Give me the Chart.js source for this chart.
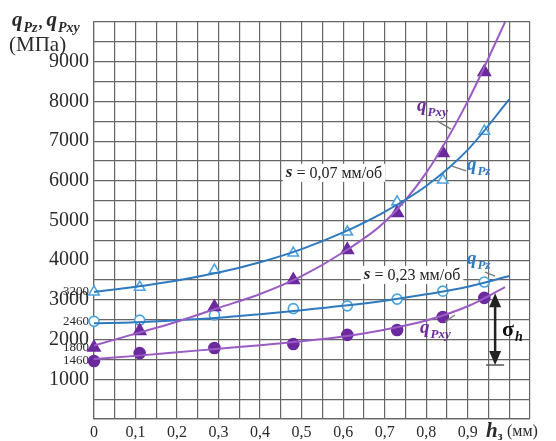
<!DOCTYPE html>
<html>
<head>
<meta charset="utf-8">
<script src="https://cdn.jsdelivr.net/npm/chart.js@4/dist/chart.umd.min.js"></script>
<style>
    html, body { margin: 0; padding: 0; background: #fff; }
    #contenedor { width: 556px; height: 441px; position: relative; }
</style>
</head>
<body>
<div id="contenedor"><canvas id="grafica"></canvas></div>
<script>
// h3 (мм) at which the measurements were taken
const puntosH = [0, 0.11, 0.29, 0.48, 0.61, 0.73, 0.84, 0.94];
// s = 0,07 мм/об
const qPz007 = [3200, 3320, 3750, 4180, 4710, 5470, 6020, 7250];
const qPxy007 = [1800, 2220, 2820, 3500, 4260, 5190, 6700, 8740];
// s = 0,23 мм/об
const qPz023 = [2460, 2490, 2620, 2780, 2850, 3020, 3220, 3450];
const qPxy023 = [1460, 1660, 1790, 1890, 2120, 2240, 2570, 3050];

// trend curves
const curvaH = [0, 0.1, 0.2, 0.3, 0.4, 0.5, 0.6, 0.7, 0.8, 0.9, 1.0];
const curvaHxy = [0, 0.1, 0.2, 0.3, 0.4, 0.5, 0.6, 0.7, 0.8, 0.9, 0.99];
const curvaPz007 = [3200, 3330, 3490, 3690, 3950, 4280, 4700, 5220, 5870, 6780, 8050];
const curvaPxy007 = [1850, 2150, 2450, 2800, 3150, 3600, 4200, 4960, 6200, 8000, 10000];
const curvaPz023 = [2410, 2440, 2490, 2550, 2640, 2740, 2850, 2980, 3140, 3330, 3600];
const curvaPxy023 = [1510, 1590, 1680, 1770, 1860, 1960, 2080, 2250, 2480, 2840, 3320];

// axis ticks
const ticksY = [0, 500, 1000, 1500, 2000, 2500, 3000, 3500, 4000, 4500, 5000, 5500, 6000, 6500, 7000, 7500, 8000, 8500, 9000, 9500, 10000];
const etiquetasY = [1000, 2000, 3000, 4000, 5000, 6000, 7000, 8000, 9000];
const extrasY = [1460, 1800, 2460, 3200];
const ticksX = [0, 0.05, 0.1, 0.15, 0.2, 0.25, 0.3, 0.35, 0.4, 0.45, 0.5, 0.55, 0.6, 0.65, 0.7, 0.75, 0.8, 0.85, 0.9, 0.95, 1.0, 1.05];
const etiquetasX = [0, 0.1, 0.2, 0.3, 0.4, 0.5, 0.6, 0.7, 0.8, 0.9];

const AZUL = "#2f79be";
const AZUL_CLARO = "#4ba3df";
const MORADO = "#6b2a9e";
const MORADO_LINEA = "#9a5cc4";
const SERIF = "'Liberation Serif', 'DejaVu Serif', serif";

const puntos = (xs, ys) => xs.map((h, i) => ({ x: h, y: ys[i] }));

function curva(xs, ys, color) {
    return {
        data: puntos(xs, ys),
        showLine: true,
        borderColor: color,
        borderWidth: 2,
        pointRadius: 0,
        cubicInterpolationMode: "monotone",
        fill: false
    };
}

function marcas(ys, estilo, relleno, borde, radio) {
    return {
        data: puntos(puntosH, ys),
        showLine: false,
        clip: false,
        pointStyle: estilo,
        pointRadius: radio,
        backgroundColor: relleno,
        borderColor: borde,
        borderWidth: 1.6
    };
}

function dibujarQ(ctx, px, py, sub, color, tam) {
    ctx.fillStyle = color;
    ctx.textAlign = "left";
    ctx.textBaseline = "alphabetic";
    ctx.font = "italic bold " + tam + "px " + SERIF;
    ctx.fillText("q", px, py);
    const ancho = ctx.measureText("q").width;
    ctx.font = "italic bold " + Math.round(tam * 0.66) + "px " + SERIF;
    ctx.fillText(sub, px + ancho + 1, py + tam * 0.28);
    return px + ancho + 1 + ctx.measureText(sub).width;
}

const anotaciones = {
    id: "anotaciones",
    afterDatasetsDraw(chart) {
        const { ctx, scales: { x, y } } = chart;
        const X = (v) => x.getPixelForValue(v);
        const Y = (v) => y.getPixelForValue(v);
        ctx.save();

        // feed-rate labels
        [[0.578, 6200, "0,07"], [0.766, 3630, "0,23"]].forEach(([hx, qy, s]) => {
            const cx = X(hx), cy = Y(qy);
            const resto = " = " + s + " мм/об";
            ctx.font = "italic bold 17px " + SERIF;
            const anchoS = ctx.measureText("s").width;
            ctx.font = "16px " + SERIF;
            const anchoR = ctx.measureText(resto).width;
            const total = anchoS + anchoR;
            const x0 = cx - total / 2;
            ctx.fillStyle = "#fff";
            ctx.fillRect(x0 - 3, cy - 9, total + 6, 18);
            ctx.fillStyle = "#222";
            ctx.textBaseline = "middle";
            ctx.textAlign = "left";
            ctx.font = "italic bold 17px " + SERIF;
            ctx.fillText("s", x0, cy);
            ctx.font = "16px " + SERIF;
            ctx.fillText(resto, x0 + anchoS, cy + 1);
        });

        // leader lines
        ctx.strokeStyle = "#7a7a7a";
        ctx.lineWidth = 1.5;
        [[0.826, 7510, 0.860, 7300], [0.862, 6370, 0.896, 6250], [0.942, 3700, 0.966, 3600], [0.845, 2440, 0.869, 2620]].forEach(([a, b, c, d]) => {
            ctx.beginPath();
            ctx.moveTo(X(a), Y(b));
            ctx.lineTo(X(c), Y(d));
            ctx.stroke();
        });

        // curve names
        dibujarQ(ctx, X(0.778), Y(7760), "Pxy", MORADO, 19);
        dibujarQ(ctx, X(0.898), Y(6270), "Pz", AZUL, 19);
        dibujarQ(ctx, X(0.898), Y(3900), "Pz", AZUL, 19);
        dibujarQ(ctx, X(0.785), Y(2170), "Pxy", MORADO, 19);

        // sigma_h arrow
        const ax = X(0.966), arriba = Y(3170), abajo = Y(1360);
        ctx.strokeStyle = "#222";
        ctx.fillStyle = "#222";
        ctx.lineWidth = 2.5;
        ctx.beginPath();
        ctx.moveTo(ax, arriba + 10);
        ctx.lineTo(ax, abajo - 10);
        ctx.stroke();
        ctx.beginPath();
        ctx.moveTo(ax, arriba);
        ctx.lineTo(ax - 6, arriba + 14);
        ctx.lineTo(ax + 6, arriba + 14);
        ctx.closePath();
        ctx.fill();
        ctx.beginPath();
        ctx.moveTo(ax, abajo);
        ctx.lineTo(ax - 6, abajo - 14);
        ctx.lineTo(ax + 6, abajo - 14);
        ctx.closePath();
        ctx.fill();
        ctx.strokeStyle = "#555";
        ctx.lineWidth = 1.5;
        ctx.beginPath();
        ctx.moveTo(ax - 9, abajo);
        ctx.lineTo(ax + 9, abajo);
        ctx.stroke();
        ctx.fillStyle = "#111";
        ctx.textBaseline = "alphabetic";
        ctx.textAlign = "left";
        ctx.font = "bold 22px " + SERIF;
        ctx.fillText("σ", ax + 7, Y(2090));
        const anchoSig = ctx.measureText("σ").width;
        ctx.font = "italic bold 14px " + SERIF;
        ctx.fillText("h", ax + 8 + anchoSig, Y(2090) + 5);

        // axis titles
        let fin = dibujarQ(ctx, 12, 26, "Pz", "#2a2a2a", 21);
        ctx.font = "bold 16px " + SERIF;
        ctx.fillText(",", fin + 1, 28);
        dibujarQ(ctx, fin + 9, 26, "Pxy", "#2a2a2a", 21);
        ctx.fillStyle = "#2a2a2a";
        ctx.font = "21px " + SERIF;
        ctx.fillText("(МПа)", 9, 51);

        ctx.font = "italic bold 21px " + SERIF;
        ctx.fillText("h", 486, 437);
        const anchoH = ctx.measureText("h").width;
        ctx.font = "bold 12px " + SERIF;
        ctx.fillText("з", 486 + anchoH, 440);
        ctx.font = "16px " + SERIF;
        ctx.fillText("(мм)", 507, 436);

        ctx.restore();
    }
};

new Chart(document.getElementById("grafica"), {
    type: "scatter",
    data: {
        datasets: [
            curva(curvaH, curvaPz007, AZUL),
            curva(curvaHxy, curvaPxy007, MORADO_LINEA),
            curva(curvaH, curvaPz023, AZUL),
            curva(curvaHxy, curvaPxy023, MORADO_LINEA),
            marcas(qPz007, "triangle", "#fff", AZUL_CLARO, 6),
            marcas(qPxy007, "triangle", MORADO, MORADO, 7),
            marcas(qPz023, "circle", "#fff", AZUL_CLARO, 5),
            marcas(qPxy023, "circle", MORADO, MORADO, 5.5)
        ]
    },
    options: {
        responsive: true,
        maintainAspectRatio: false,
        animation: false,
        layout: { padding: { top: 22, right: 26, left: 0, bottom: 0 } },
        plugins: { legend: { display: false }, tooltip: { enabled: false } },
        scales: {
            x: {
                type: "linear",
                min: 0,
                max: 1.05,
                afterBuildTicks: (escala) => { escala.ticks = ticksX.map((v) => ({ value: v })); },
                afterFit: (escala) => { escala.height = 22; },
                grid: { color: "#666", lineWidth: 1.2, drawTicks: false },
                border: { color: "#666", width: 1.2 },
                ticks: {
                    autoSkip: false,
                    maxRotation: 0,
                    padding: 4,
                    color: "#2a2a2a",
                    font: { family: SERIF, size: 16 },
                    callback: (v) => etiquetasX.some((e) => Math.abs(e - v) < 1e-6) ? (v === 0 ? "0" : v.toFixed(1).replace(".", ",")) : ""
                }
            },
            y: {
                type: "linear",
                min: 0,
                max: 10000,
                afterBuildTicks: (escala) => { escala.ticks = ticksY.concat(extrasY).sort((a, b) => a - b).map((v) => ({ value: v })); },
                afterFit: (escala) => { escala.width = 94; },
                grid: {
                    color: (c) => c.tick && extrasY.includes(c.tick.value) ? "rgba(0,0,0,0)" : "#666",
                    lineWidth: 1.2,
                    drawTicks: false
                },
                border: { color: "#666", width: 1.2 },
                ticks: {
                    autoSkip: false,
                    padding: 5,
                    color: "#2a2a2a",
                    font: (c) => extrasY.includes(c.tick && c.tick.value) ? { family: SERIF, size: 13 } : { family: SERIF, size: 20 },
                    callback: (v) => (etiquetasY.includes(v) || extrasY.includes(v)) ? String(v) : ""
                }
            }
        }
    },
    plugins: [anotaciones]
});
</script>
</body>
</html>
